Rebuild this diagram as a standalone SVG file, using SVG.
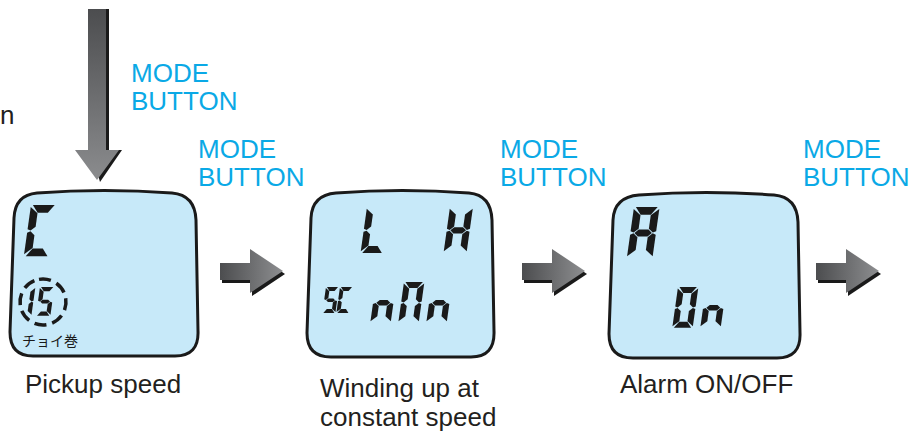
<svg xmlns="http://www.w3.org/2000/svg" xmlns:xlink="http://www.w3.org/1999/xlink" width="922" height="444" viewBox="0 0 922 444">
<style>
.lbl{font-family:"Liberation Sans",Arial,sans-serif;font-size:26px;fill:#0aa9e6}
.cap{font-family:"Liberation Sans",Arial,sans-serif;font-size:26px;fill:#231f20}
.panel{fill:#c7e9f9;stroke:#1a1a1a;stroke-width:3}
.seg{fill:#1a1a1a}
.jp{font-family:"Noto Sans CJK JP",sans-serif;font-size:14px;fill:#1a1a1a}
</style>
<defs>
<linearGradient id="gd" x1="0" y1="0" x2="0" y2="1">
<stop offset="0" stop-color="#4c4d4f"/><stop offset="1" stop-color="#8b8c8e"/>
</linearGradient>
<linearGradient id="gr" x1="0" y1="0" x2="1" y2="0">
<stop offset="0" stop-color="#4c4d4f"/><stop offset="1" stop-color="#8d8e90"/>
</linearGradient>
<polygon id="sa" class="seg" points="1.5,0 18.5,0 14,6 6,6"/>
<polygon id="sb" class="seg" points="20,1.5 20,19 17.5,20 14,17 14,6.5"/>
<polygon id="sc" class="seg" points="17.5,20.6 20,21.6 20,38.5 14,33.5 14,23.6"/>
<polygon id="sd" class="seg" points="6,34 14,34 18.5,40 1.5,40"/>
<polygon id="se" class="seg" points="2.5,20.6 6,23.6 6,33.5 0,38.5 0,21.6"/>
<polygon id="sf" class="seg" points="0,1.5 6,6.5 6,17 2.5,20 0,19"/>
<polygon id="sg" class="seg" points="3.2,20.3 6.2,17.6 13.8,17.6 16.8,20.3 13.8,23 6.2,23"/>
<g id="rarrow">
<polygon points="2,3 32,3 32,-11 65,11 32,33 32,20 2,20" fill="#1a1a1a"/>
<polygon points="0,0 30,0 30,-14 63,8 30,30 30,17 0,17" fill="url(#gr)"/>
</g>
</defs>

<text class="cap" x="0" y="124">n</text>

<g id="connectors">
<g id="down-arrow">
<polygon points="91,9 109,9 109,150 122,150 100,182 91,150" fill="#1a1a1a"/>
<polygon points="88,9 106,9 106,150 119,150 97,180 75,150 88,150" fill="url(#gd)"/>
</g>
<use xlink:href="#rarrow" x="220" y="263"/>
<use xlink:href="#rarrow" x="522" y="263"/>
<use xlink:href="#rarrow" x="816" y="263"/>
</g>

<g id="labels">
<text class="lbl" x="131" y="82">MODE</text>
<text class="lbl" x="131" y="110">BUTTON</text>
<text class="lbl" x="198" y="158">MODE</text>
<text class="lbl" x="198" y="186">BUTTON</text>
<text class="lbl" x="500" y="158">MODE</text>
<text class="lbl" x="500" y="186">BUTTON</text>
<text class="lbl" x="803" y="158">MODE</text>
<text class="lbl" x="803" y="186">BUTTON</text>
</g>

<g id="panel-pickup">
<path class="panel" d="M37,193 Q104,188 172,193 Q195,195 196,220 L198,331 Q199,356 175,356 L33,356 Q10,356 10,332 L14,218 Q15,195 37,193 Z"/>
<g transform="translate(31,205) scale(1.28) skewX(-8)">
<use xlink:href="#sa"/><use xlink:href="#sf"/><use xlink:href="#se"/><use xlink:href="#sd"/>
</g>
<circle cx="43" cy="302" r="23" fill="none" stroke="#1a1a1a" stroke-width="3.5" stroke-dasharray="12 6.1" transform="rotate(-100 43 302)"/>
<g transform="translate(21,287) scale(0.72) skewX(-8)">
<use xlink:href="#sb"/><use xlink:href="#sc"/>
</g>
<g transform="translate(40,287) scale(0.72) skewX(-8)">
<use xlink:href="#sa"/><use xlink:href="#sf"/><use xlink:href="#sg"/><use xlink:href="#sc"/><use xlink:href="#sd"/>
</g>
<text class="jp" x="22" y="346">チョイ巻</text>
<text class="cap" x="25" y="393">Pickup speed</text>
</g>

<g id="panel-constant">
<path class="panel" d="M336,193 Q402,188 469,193 Q491,195 492,220 L494,331 Q495,357 471,357 L331,357 Q307,357 307,333 L311,218 Q312,195 336,193 Z"/>
<g transform="translate(367,207) scale(1.15) skewX(-8)">
<use xlink:href="#sf"/><use xlink:href="#se"/><use xlink:href="#sd"/>
</g>
<g transform="translate(450,207) scale(1.15) skewX(-8)">
<use xlink:href="#sb"/><use xlink:href="#sc"/><use xlink:href="#se"/><use xlink:href="#sf"/><use xlink:href="#sg"/>
</g>
<g transform="translate(326,287) scale(0.65) skewX(-8)">
<use xlink:href="#sa"/><use xlink:href="#sf"/><use xlink:href="#sg"/><use xlink:href="#sc"/><use xlink:href="#sd"/>
</g>
<g transform="translate(340,287) scale(0.65) skewX(-8)">
<use xlink:href="#sa"/><use xlink:href="#sf"/><use xlink:href="#se"/><use xlink:href="#sd"/>
</g>
<g transform="translate(376,282) scale(1.02) skewX(-8)">
<use xlink:href="#se"/><use xlink:href="#sg"/><use xlink:href="#sc"/>
</g>
<g transform="translate(404,282) scale(1.02) skewX(-8)">
<use xlink:href="#sa"/><use xlink:href="#sb"/><use xlink:href="#sc"/><use xlink:href="#se"/><use xlink:href="#sf"/>
</g>
<g transform="translate(432,282) scale(1.02) skewX(-8)">
<use xlink:href="#se"/><use xlink:href="#sg"/><use xlink:href="#sc"/>
</g>
<text class="cap" x="320" y="397">Winding up at</text>
<text class="cap" x="320" y="426">constant speed</text>
</g>

<g id="panel-alarm">
<path class="panel" d="M639,195 Q706,190 774,195 Q797,197 798,222 L800,333 Q801,358 777,358 L633,358 Q609,358 609,334 L613,220 Q614,197 639,195 Z"/>
<g transform="translate(634,207) scale(1.28) skewX(-8)">
<use xlink:href="#sa"/><use xlink:href="#sb"/><use xlink:href="#sc"/><use xlink:href="#se"/><use xlink:href="#sf"/><use xlink:href="#sg"/>
</g>
<g transform="translate(678,287) scale(1.02) skewX(-8)">
<use xlink:href="#sa"/><use xlink:href="#sb"/><use xlink:href="#sc"/><use xlink:href="#sd"/><use xlink:href="#se"/><use xlink:href="#sf"/>
</g>
<g transform="translate(706,287) scale(1.02) skewX(-8)">
<use xlink:href="#se"/><use xlink:href="#sg"/><use xlink:href="#sc"/>
</g>
<text class="cap" x="620" y="393">Alarm ON/OFF</text>
</g>
</svg>
